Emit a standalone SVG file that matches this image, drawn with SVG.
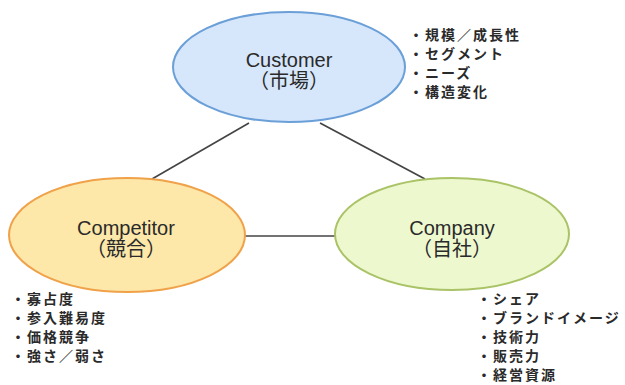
<svg xmlns="http://www.w3.org/2000/svg" width="625" height="385" viewBox="0 0 625 385">
  <style>
    .node-label { font-family: "Liberation Sans", "Noto Sans CJK JP", sans-serif; font-size: 20px; fill: #2a2a2a; text-anchor: middle; }
    .list { font-family: "Noto Sans CJK JP", sans-serif; font-size: 14px; letter-spacing: 2px; fill: #2a2a2a; font-weight: 700; }
    .link { stroke: #444; stroke-width: 1.6; fill: none; }
  </style>
  <rect width="625" height="385" fill="#ffffff"/>

  <!-- connectors between the three Cs -->
  <g id="connectors">
    <line class="link" x1="249" y1="123" x2="152" y2="179"/>
    <line class="link" x1="320" y1="123" x2="425" y2="179"/>
    <line class="link" x1="245" y1="236" x2="336" y2="236"/>
  </g>

  <g id="customer">
    <ellipse cx="289" cy="67" rx="116" ry="55" fill="#d6e7fb" stroke="#6b9fd8" stroke-width="2"/>
    <text class="node-label" x="289" y="67">Customer</text>
    <text class="node-label" x="289" y="88">（市場）</text>
  </g>

  <g id="competitor">
    <ellipse cx="127" cy="235" rx="118" ry="57" fill="#fde7a9" stroke="#f0a24a" stroke-width="2"/>
    <text class="node-label" x="126" y="235">Competitor</text>
    <text class="node-label" x="126" y="256">（競合）</text>
  </g>

  <g id="company">
    <ellipse cx="452" cy="234" rx="117" ry="56" fill="#eef8cf" stroke="#a9c366" stroke-width="2"/>
    <text class="node-label" x="452" y="235">Company</text>
    <text class="node-label" x="452" y="256">（自社）</text>
  </g>

  <g id="customer-notes">
    <text class="list" x="409" y="40">・規模／成長性</text>
    <text class="list" x="409" y="59">・セグメント</text>
    <text class="list" x="409" y="78">・ニーズ</text>
    <text class="list" x="409" y="97">・構造変化</text>
  </g>

  <g id="competitor-notes">
    <text class="list" x="11" y="304">・寡占度</text>
    <text class="list" x="11" y="323">・参入難易度</text>
    <text class="list" x="11" y="342">・価格競争</text>
    <text class="list" x="11" y="361">・強さ／弱さ</text>
  </g>

  <g id="company-notes">
    <text class="list" x="477" y="304">・シェア</text>
    <text class="list" x="477" y="323">・ブランドイメージ</text>
    <text class="list" x="477" y="342">・技術力</text>
    <text class="list" x="477" y="361">・販売力</text>
    <text class="list" x="477" y="380">・経営資源</text>
  </g>
</svg>
